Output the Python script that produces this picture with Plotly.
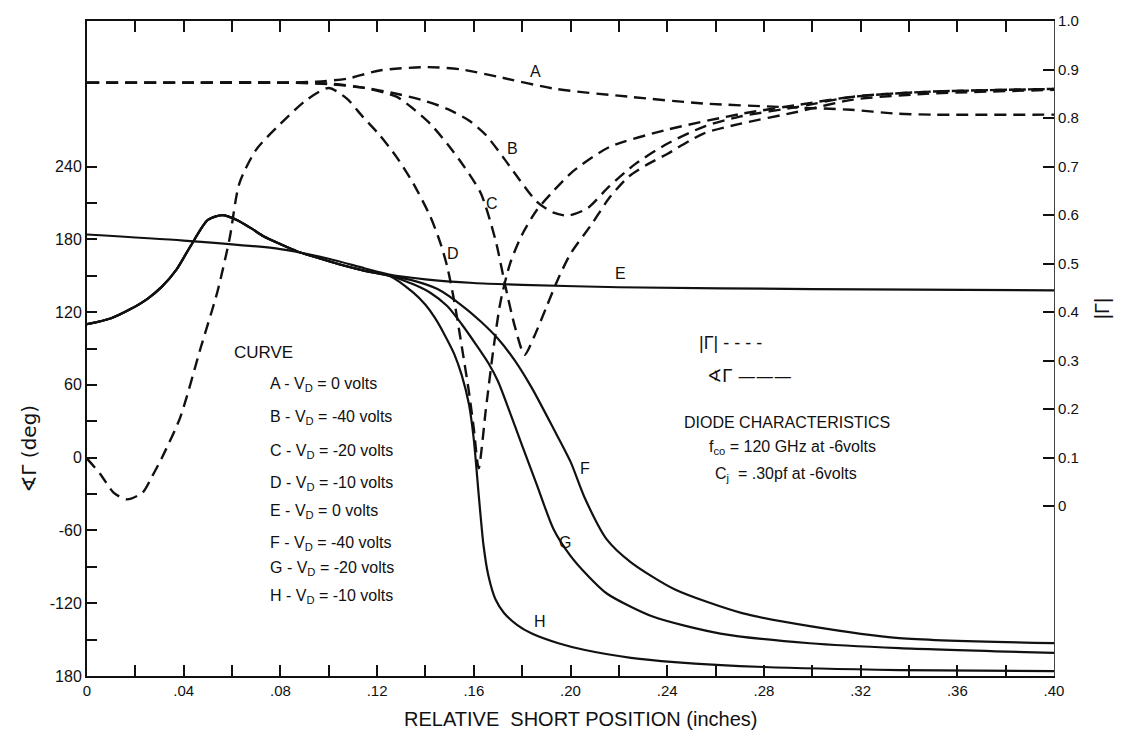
import plotly.graph_objects as go

# ---- |Gamma| (dashed, right axis) ----
x_A = [0, .04, .08, .095, .1075, .121, .141, .155, .17, .194, .224, .255, .286, .316, .335, .35, .40]
g_A = [.873, .873, .873, .875, .881, .898, .905, .900, .885, .860, .844, .830, .823, .817, .809, .807, .807]

x_B = [0, .04, .08, .10, .115, .128, .14, .149, .158, .165, .172, .178, .186, .193, .199, .207, .216,
       .227, .24, .255, .27, .294, .317, .347, .40]
g_B = [.873, .873, .873, .870, .862, .850, .835, .819, .795, .765, .720, .679, .628, .605, .599, .614, .659,
       .706, .747, .782, .803, .823, .844, .854, .860]

x_C = [0, .04, .08, .10, .115, .128, .135, .142, .149, .156, .163, .169, .173, .177, .181, .185, .19,
       .195, .20, .209, .216, .224, .232, .24, .255, .27, .294, .317, .347, .40]
g_C = [.873, .873, .873, .871, .862, .844, .819, .788, .747, .700, .644, .548, .455, .370, .312, .350, .410,
       .470, .520, .583, .635, .679, .705, .726, .768, .788, .813, .838, .850, .858]

x_D = [0, .0054, .011, .0165, .023, .027, .031, .0385, .047, .054, .059, .063, .07, .08, .091, .10, .1075,
       .114, .121, .128, .135, .142, .146, .149, .152, .155, .158, .160, .162, .165, .168, .171, .175, .18,
       .186, .193, .201, .216, .24, .271, .294, .317, .347, .40]
g_D = [.098, .067, .028, .014, .028, .062, .100, .182, .326, .443, .552, .665, .735, .788, .838, .862, .840,
       .803, .765, .720, .665, .597, .545, .494, .420, .330, .235, .160, .078, .200, .320, .420, .500, .560,
       .610, .650, .690, .740, .776, .809, .827, .844, .854, .860]

# ---- angle of Gamma (solid, left axis) ----
x_E = [0, .04, .08, .10, .115, .125, .14, .16, .18, .22, .30, .40]
a_E = [184, 179, 172, 164, 156, 151, 147, 144, 142.5, 140.5, 139, 138]

# F, G and H coincide up to the branch point near .125
x_hump = [0, .01, .018, .025, .031, .037, .0427, .05, .056, .062, .068, .073, .08, .087, .095, .105, .115, .125]
a_hump = [110, 115, 122.5, 131, 141, 155, 174, 196, 200, 196, 189, 182.5, 176, 170, 165, 159, 154, 150]

x_F_tail = [.135, .145, .156, .163, .17, .177, .184, .193, .2, .206, .215, .225, .243, .271, .299, .336, .40]
a_F_tail = [146, 139, 124, 112, 98, 80, 57.5, 23.8, -3.3, -33.7, -67.4, -86.3, -108.5, -128.2, -138.9, -148.8, -152.9]

x_G_tail = [.135, .142, .149, .155, .161, .166, .170, .175, .180, .186, .193, .200, .207, .215, .234, .262,
            .299, .336, .40]
a_G_tail = [143, 136, 125, 110, 93, 78, 63, 37, 10, -22, -59, -81, -97, -112, -131, -145,
            -153, -157, -161]

x_H_tail = [.135, .140, .144, .148, .152, .155, .158, .160, .162, .164, .166, .169, .1725, .178, .184, .195,
            .206, .225, .243, .28, .336, .40]
a_H_tail = [136, 126, 115, 101, 85, 68, 44, 15, -30, -72, -97, -117, -128, -138, -145, -153,
            -158.6, -165, -168.5, -172.6, -175.1, -176]

# ---- axis ticks ----
x_ticks = [round(0.02 * i, 2) for i in range(21)]
x_ticktext = [("0" if v == 0 else ("%.2f" % v)[1:]) if i % 2 == 0 else "" for i, v in enumerate(x_ticks)]
ang_ticks = [-180, -120, -60, 0, 60, 120, 180, 240]
ang_ticktext = ["180", "-120", "-60", "0", "60", "120", "180", "240"]
ang_minor = [-150, -90, -30, 30, 90, 150, 210]
mag_ticks = [0, .1, .2, .3, .4, .5, .6, .7, .8, .9, 1.0]
mag_ticktext = ["0", "0.1", "0.2", "0.3", "0.4", "0.5", "0.6", "0.7", "0.8", "0.9", "1.0"]

curve_labels = ["A", "B", "C", "D", "E", "F", "G", "H"]
label_x = [.1857, .1758, .1675, .1514, .2205, .206, .1977, .1874]
label_ang = [318, 254.8, 209.6, 168.5, 152, -9, -69.9, -134.8]

key_lines = ["A - V<sub>D</sub> = 0 volts", "B - V<sub>D</sub> = -40 volts", "C - V<sub>D</sub> = -20 volts",
             "D - V<sub>D</sub> = -10 volts", "E - V<sub>D</sub> = 0 volts", "F - V<sub>D</sub> = -40 volts",
             "G - V<sub>D</sub> = -20 volts", "H - V<sub>D</sub> = -10 volts"]
key_ang = [60.5, 33.4, 5.4, -21.7, -44.7, -71, -91.6, -114.6]

FONT = "Liberation Sans, DejaVu Sans"
INK = "#111111"

fig = go.Figure()

dash = dict(color=INK, width=2.4, dash="12px,7px")
for xs, ys in [(x_A, g_A), (x_B, g_B), (x_C, g_C), (x_D, g_D)]:
    fig.add_trace(go.Scatter(x=xs, y=ys, yaxis="y2", mode="lines",
                             line=dict(shape="spline", smoothing=0.7, **dash),
                             showlegend=False, hoverinfo="skip"))

solid = dict(color=INK, width=2.2)
fig.add_trace(go.Scatter(x=x_E, y=a_E, mode="lines", line=dict(shape="spline", smoothing=0.7, **solid),
                         showlegend=False, hoverinfo="skip"))
for xt, at in [(x_F_tail, a_F_tail), (x_G_tail, a_G_tail), (x_H_tail, a_H_tail)]:
    fig.add_trace(go.Scatter(x=x_hump + xt, y=a_hump + at, mode="lines",
                             line=dict(shape="spline", smoothing=0.7, **solid),
                             showlegend=False, hoverinfo="skip"))

ann = []
for t, xv, yv in zip(curve_labels, label_x, label_ang):
    ann.append(dict(x=xv, y=yv, xref="x", yref="y", text=t, showarrow=False,
                    font=dict(size=16, color=INK, family=FONT)))

ann.append(dict(x=0.060, y=86.3, xref="x", yref="y", text="CURVE", showarrow=False,
                xanchor="left", font=dict(size=17, color=INK, family=FONT)))
for t, yv in zip(key_lines, key_ang):
    ann.append(dict(x=0.0749, y=yv, xref="x", yref="y", text=t, showarrow=False,
                    xanchor="left", font=dict(size=16, color=INK, family=FONT)))

ann += [
    dict(x=0.2523, y=94.5, xref="x", yref="y", text="|Γ| - - - -", showarrow=False, xanchor="left",
         font=dict(size=18, color=INK, family=FONT)),
    dict(x=0.2556, y=67.4, xref="x", yref="y", text="∢Γ ———", showarrow=False, xanchor="left",
         font=dict(size=18, color=INK, family="DejaVu Sans")),
    dict(x=0.2461, y=28.8, xref="x", yref="y", text="DIODE CHARACTERISTICS", showarrow=False,
         xanchor="left", font=dict(size=16, color=INK, family=FONT)),
    dict(x=0.2565, y=8.5, xref="x", yref="y", text="f<sub>co</sub> = 120 GHz at -6volts", showarrow=False,
         xanchor="left", font=dict(size=16, color=INK, family=FONT)),
    dict(x=0.2590, y=-13.7, xref="x", yref="y", text="C<sub>j</sub>  = .30pf at -6volts", showarrow=False,
         xanchor="left", font=dict(size=16, color=INK, family=FONT)),
    # axis titles
    dict(x=0.51, y=0, xref="paper", yref="paper", yshift=-56, text="RELATIVE  SHORT POSITION (inches)",
         showarrow=False, font=dict(size=20, color=INK, family=FONT)),
    dict(x=0, y=0.3475, xref="paper", yref="paper", xshift=-72, text="∢Γ (deg)", textangle=-90,
         showarrow=False, font=dict(size=20, color=INK, family="DejaVu Sans")),
    dict(x=1, y=0.56, xref="paper", yref="paper", xshift=61, text="|Γ|", textangle=-90,
         showarrow=False, font=dict(size=20, color=INK, family=FONT)),
]

fig.update_layout(
    width=1136, height=740,
    margin=dict(l=87, r=82, t=17, b=64),
    paper_bgcolor="white", plot_bgcolor="white",
    font=dict(family=FONT, color=INK),
    annotations=ann,
    xaxis=dict(range=[0, 0.40], tickmode="array", tickvals=x_ticks, ticktext=x_ticktext,
               ticks="inside", ticklen=11, tickwidth=1.5, tickcolor=INK,
               showline=True, linecolor=INK, linewidth=2, mirror="ticks",
               showgrid=False, zeroline=False, tickfont=dict(size=15, color=INK, family=FONT)),
    yaxis=dict(range=[-180, 360], tickmode="array", tickvals=ang_ticks, ticktext=ang_ticktext,
               ticks="inside", ticklen=10, tickwidth=1.5, tickcolor=INK,
               minor=dict(tickmode="array", tickvals=ang_minor, ticks="inside", ticklen=10,
                          tickwidth=1.5, tickcolor=INK, showgrid=False),
               showline=True, linecolor=INK, linewidth=2,
               showgrid=False, zeroline=False, tickfont=dict(size=16, color=INK, family=FONT)),
    yaxis2=dict(range=[-0.35, 1.0], overlaying="y", side="right", tickmode="array",
                tickvals=mag_ticks, ticktext=mag_ticktext,
                ticks="inside", ticklen=11, tickwidth=1.5, tickcolor=INK,
                showline=True, linecolor="#444444", linewidth=1.2,
                showgrid=False, zeroline=False, tickfont=dict(size=15, color=INK, family=FONT)),
)

fig.write_html("out.html")
